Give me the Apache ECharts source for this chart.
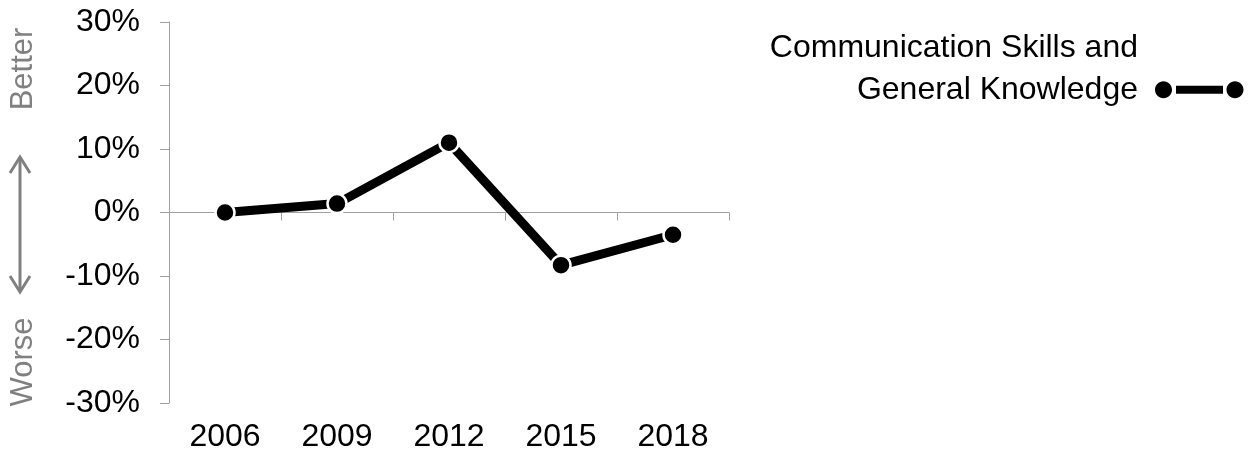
<!DOCTYPE html>
<html>
<head>
<meta charset="utf-8">
<script src="https://cdn.jsdelivr.net/npm/echarts@6/dist/echarts.min.js"></script>
<style>
  html, body { margin: 0; padding: 0; background: #fff; }
  #chart { width: 1253px; height: 456px; }
</style>
</head>
<body>
<div id="chart"></div>
<script>
// Survey years and change (in percent) for the skill group
var years = ['2006', '2009', '2012', '2015', '2018'];
var changePct = [0, 1.4, 11.0, -8.3, -3.5];
var seriesName = 'Communication Skills and\nGeneral Knowledge';
var yMin = -30, yMax = 30, yStep = 10;

var FONT = 'Liberation Sans, Arial, Helvetica, sans-serif';
var AXIS_GREY = '#a0a0a0';
var SIDE_GREY = '#808080';

// Circle drawn with four cubic segments, as SVG path text
function circlePath(cx, cy, r) {
  var k = 0.5523 * r;
  return 'M' + (cx - r) + ',' + cy +
    ' C' + (cx - r) + ',' + (cy - k) + ' ' + (cx - k) + ',' + (cy - r) + ' ' + cx + ',' + (cy - r) +
    ' C' + (cx + k) + ',' + (cy - r) + ' ' + (cx + r) + ',' + (cy - k) + ' ' + (cx + r) + ',' + cy +
    ' C' + (cx + r) + ',' + (cy + k) + ' ' + (cx + k) + ',' + (cy + r) + ' ' + cx + ',' + (cy + r) +
    ' C' + (cx - k) + ',' + (cy + r) + ' ' + (cx - r) + ',' + (cy + k) + ' ' + (cx - r) + ',' + cy + ' Z ';
}

// Legend icon: marker - bar - marker, sitting at the bottom of a taller box
// so it lines up with the second line of the legend text.
var legendIcon = 'path://M0,0 M101,0 ' +
  circlePath(20.5, 50, 8.5) +
  'M33,46 L80,46 L80,54 L33,54 Z ' +
  circlePath(92, 50, 8.5);

var chart = echarts.init(document.getElementById('chart'), null, { renderer: 'canvas' });

chart.setOption({
  animation: false,
  backgroundColor: '#ffffff',
  textStyle: { fontFamily: FONT },
  grid: { left: 169, right: 524, top: 22, bottom: 53, containLabel: false },
  legend: {
    data: [seriesName],
    right: 9,
    top: 27,
    padding: 0,
    align: 'right',
    itemWidth: 101,
    itemHeight: 59,
    icon: legendIcon,
    itemStyle: { borderWidth: 0, color: '#000' },
    textStyle: { fontSize: 32, color: '#000', lineHeight: 42, fontFamily: FONT }
  },
  xAxis: [
    {
      // axis line and ticks sitting at 0%
      type: 'category',
      data: years,
      boundaryGap: true,
      position: 'bottom',
      axisLine: { show: true, onZero: true, lineStyle: { color: AXIS_GREY, width: 1 } },
      axisTick: { show: true, length: 8, alignWithLabel: false, lineStyle: { color: AXIS_GREY } },
      axisLabel: { show: false },
      splitLine: { show: false }
    },
    {
      // year labels along the bottom of the plot
      type: 'category',
      data: years,
      boundaryGap: true,
      position: 'bottom',
      axisLine: { show: false, onZero: false },
      axisTick: { show: false },
      axisLabel: { show: true, margin: 18, fontSize: 32, color: '#000', fontFamily: FONT },
      splitLine: { show: false }
    }
  ],
  yAxis: {
    type: 'value',
    min: yMin,
    max: yMax,
    interval: yStep,
    axisLine: { show: true, lineStyle: { color: AXIS_GREY, width: 1 } },
    axisTick: { show: true, length: 9, lineStyle: { color: AXIS_GREY } },
    axisLabel: { margin: 29, fontSize: 32, color: '#000', fontFamily: FONT, formatter: '{value}%' },
    splitLine: { show: false }
  },
  series: [
    {
      name: seriesName,
      type: 'line',
      xAxisIndex: 0,
      data: changePct,
      symbol: 'circle',
      symbolSize: 19,
      lineStyle: { color: '#000', width: 9 },
      itemStyle: { color: '#000', borderColor: '#fff', borderWidth: 2.5 },
      z: 3
    }
  ],
  graphic: [
    {
      type: 'text', x: 23, y: 69, rotation: Math.PI / 2,
      style: { text: 'Better', fontSize: 31, fontFamily: FONT, fill: SIDE_GREY, align: 'center', verticalAlign: 'middle' }
    },
    {
      type: 'text', x: 23, y: 362, rotation: Math.PI / 2,
      style: { text: 'Worse', fontSize: 31, fontFamily: FONT, fill: SIDE_GREY, align: 'center', verticalAlign: 'middle' }
    },
    {
      type: 'line', shape: { x1: 20, y1: 157, x2: 20, y2: 292 },
      style: { stroke: SIDE_GREY, lineWidth: 3 }
    },
    {
      type: 'polyline', shape: { points: [[10, 173], [20, 157], [30, 173]] },
      style: { stroke: SIDE_GREY, lineWidth: 3, fill: null }
    },
    {
      type: 'polyline', shape: { points: [[10, 276], [20, 292], [30, 276]] },
      style: { stroke: SIDE_GREY, lineWidth: 3, fill: null }
    }
  ]
});
</script>
</body>
</html>
